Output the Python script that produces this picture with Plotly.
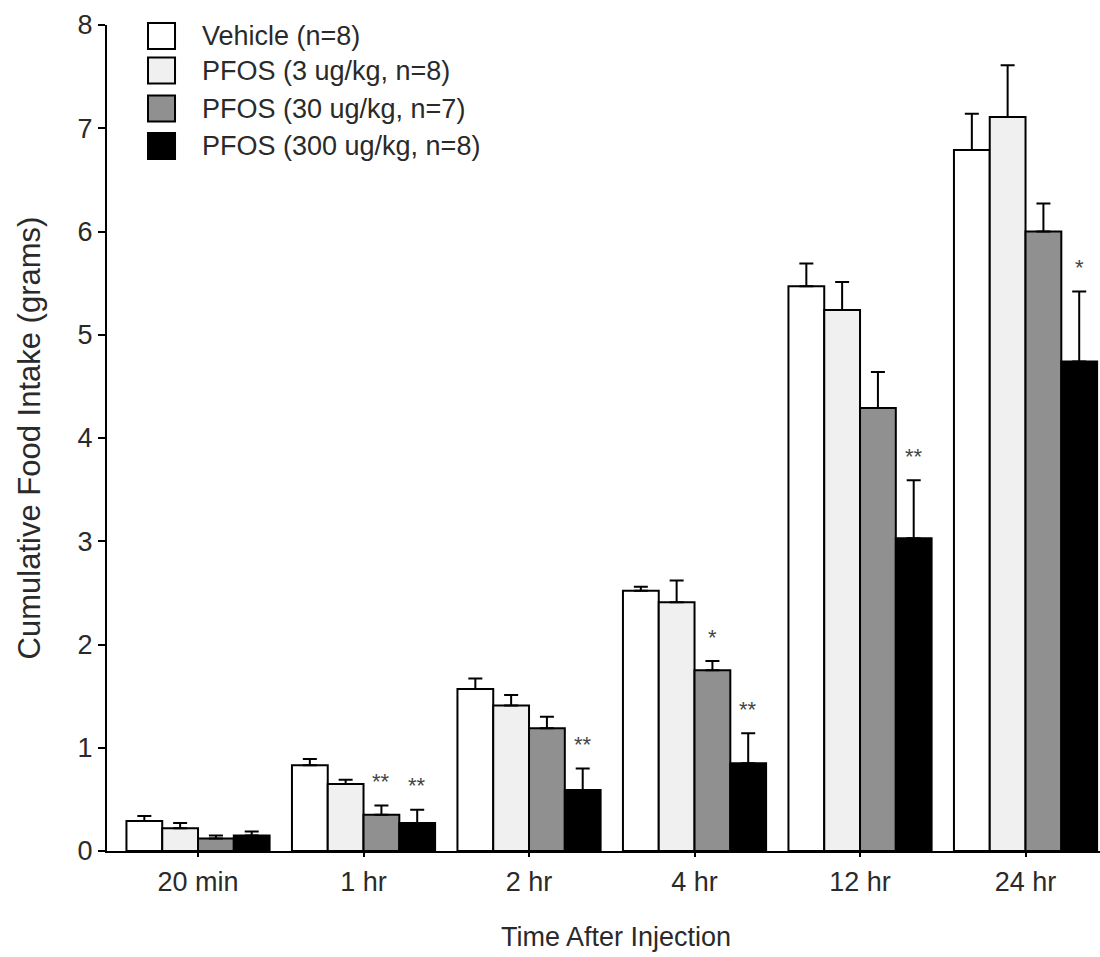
import plotly.graph_objects as go

categories = ["20 min", "1 hr", "2 hr", "4 hr", "12 hr", "24 hr"]
series_names = ["Vehicle (n=8)", "PFOS (3 ug/kg, n=8)", "PFOS (30 ug/kg, n=7)", "PFOS (300 ug/kg, n=8)"]
vehicle = [0.29, 0.83, 1.57, 2.52, 5.47, 6.79]
pfos3 = [0.22, 0.65, 1.41, 2.41, 5.24, 7.11]
pfos30 = [0.12, 0.35, 1.19, 1.75, 4.29, 6.00]
pfos300 = [0.15, 0.27, 0.59, 0.85, 3.03, 4.74]
vehicle_err = [0.05, 0.06, 0.10, 0.04, 0.22, 0.35]
pfos3_err = [0.05, 0.04, 0.10, 0.21, 0.27, 0.50]
pfos30_err = [0.03, 0.09, 0.11, 0.09, 0.35, 0.27]
pfos300_err = [0.04, 0.13, 0.21, 0.29, 0.56, 0.68]
vehicle_sig = ["", "", "", "", "", ""]
pfos3_sig = ["", "", "", "", "", ""]
pfos30_sig = ["", "**", "", "*", "", ""]
pfos300_sig = ["", "**", "**", "**", "**", "*"]
y_ticks = [0, 1, 2, 3, 4, 5, 6, 7, 8]

values = [vehicle, pfos3, pfos30, pfos300]
errors = [vehicle_err, pfos3_err, pfos30_err, pfos300_err]
sigs = [vehicle_sig, pfos3_sig, pfos30_sig, pfos300_sig]
colors = ["#ffffff", "#f0f0f0", "#909090", "#000000"]

FONT = "Liberation Sans, Arial, Helvetica, sans-serif"
TXT = "#2a2a2a"
fig = go.Figure()
for name, v, e, c in zip(series_names, values, errors, colors):
    fig.add_trace(go.Bar(
        x=categories, y=v, name=name,
        marker=dict(color=c, line=dict(color="#000000", width=2)),
        error_y=dict(type="data", array=e, arrayminus=[0] * len(e), symmetric=False,
                     color="#000000", thickness=2, width=7),
        showlegend=False,
    ))

# significance markers, positioned relative to bars via category + offset
bargap = 0.135
n = len(series_names)
slot = (1 - bargap) / n
for si, (v, e, s) in enumerate(zip(values, errors, sigs)):
    for ci, cat in enumerate(categories):
        if s[ci]:
            off = -(1 - bargap) / 2 + slot * (si + 0.5)
            fig.add_annotation(x=ci + off, y=v[ci] + e[ci], xref="x", yref="y",
                               text=s[ci], showarrow=False, yanchor="middle", yshift=24,
                               font=dict(family=FONT, size=22, color="#444444"))

# legend drawn manually
leg_y = [0.9867, 0.9449, 0.8989, 0.8535]
for i, (name, c) in enumerate(zip(series_names, colors)):
    fig.add_shape(type="rect", xref="paper", yref="paper",
                  x0=0.0413, x1=0.0685, y0=leg_y[i] - 0.0157, y1=leg_y[i] + 0.0157,
                  fillcolor=c, line=dict(color="#000000", width=2))
    fig.add_annotation(xref="paper", yref="paper", x=0.0937, y=leg_y[i], text=name,
                       showarrow=False, xanchor="left", yanchor="middle",
                       font=dict(family=FONT, size=27, color=TXT))

# x-axis title
fig.add_annotation(xref="paper", yref="paper", x=0.5126, y=0, yshift=-86,
                   text="Time After Injection", showarrow=False,
                   xanchor="center", yanchor="middle",
                   font=dict(family=FONT, size=27, color=TXT))

fig.update_layout(
    width=1100, height=957,
    margin=dict(l=107, r=0, t=25, b=106),
    paper_bgcolor="white", plot_bgcolor="white",
    barmode="group", bargap=bargap, bargroupgap=0,
    font=dict(family=FONT, size=27, color=TXT),
)
fig.update_xaxes(
    range=[-0.55, 5.45], showline=True, linecolor="#000000", linewidth=2,
    ticks="outside", ticklen=4, tickwidth=2, tickcolor="#000000",
    ticklabelstandoff=2, tickfont=dict(size=27),
    showgrid=False, zeroline=False,
)
fig.update_yaxes(
    range=[0, 8], tickvals=y_ticks, showline=True, linecolor="#000000", linewidth=2,
    ticks="outside", ticklen=7, tickwidth=2, tickcolor="#000000",
    tickfont=dict(size=27),
    title=dict(text="Cumulative Food Intake (grams)", standoff=28, font=dict(size=31)),
    showgrid=False, zeroline=False,
)
fig.write_html("out.html")
